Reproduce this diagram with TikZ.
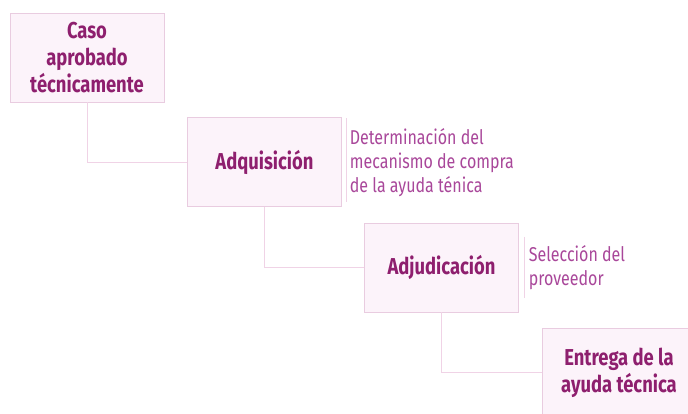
\documentclass[tikz,border=0pt]{standalone}
\usepackage{fontspec}
\setmainfont{Fira Sans}[FakeStretch=0.8]
\usetikzlibrary{positioning}
\definecolor{titlepurple}{HTML}{8E1F6E}
\definecolor{notepurple}{HTML}{A9479A}
\definecolor{boxfill}{HTML}{FCF3FA}
\definecolor{boxline}{HTML}{E9CCE0}
\definecolor{linkpink}{HTML}{F0D3E6}
\begin{document}
\begin{tikzpicture}[x=1pt, y=-1pt,
    stage/.style={draw=boxline, fill=boxfill, minimum width=154pt, minimum height=89pt,
        inner sep=0pt, align=center, text=titlepurple,
        font=\bfseries\fontsize{23}{27}\selectfont},
    note/.style={inner sep=0pt, align=left, text=notepurple,
        font=\fontsize{20}{24}\selectfont},
    link/.style={draw=linkpink, line width=0.8pt}]
    \useasboundingbox[fill=white] (0,0) rectangle (688,413);

    \node[stage] (caso) at (87,57.5) {Caso\\aprobado\\técnicamente};
    \node[stage] (adq) at (264.5,162) {Adquisición};
    \node[stage] (adj) at (441.5,267.5) {Adjudicación};
    \node[stage] (ent) at (619,372.5) {Entrega de la\\ayuda técnica};

    \draw[link] (caso.south) |- (adq.west);
    \draw[link] (adq.south) |- (adj.west);
    \draw[link] (adj.south) |- (ent.west);

    \node[note, right=8pt of adq.north east, anchor=north west, yshift=-11pt] (adqnote)
        {Determinación del\\mecanismo de compra\\de la ayuda ténica};
    \draw[link] ([xshift=5pt, yshift=-1pt]adq.north east) -- ([xshift=5pt, yshift=5pt]adq.south east);

    \node[note, right=10pt of adj.north east, anchor=north west, yshift=-22pt] (adjnote)
        {Selección del\\proveedor};
    \draw[link] ([xshift=6pt, yshift=-14pt]adj.north east) -- ([xshift=6pt, yshift=14pt]adj.south east);
\end{tikzpicture}
\end{document}
